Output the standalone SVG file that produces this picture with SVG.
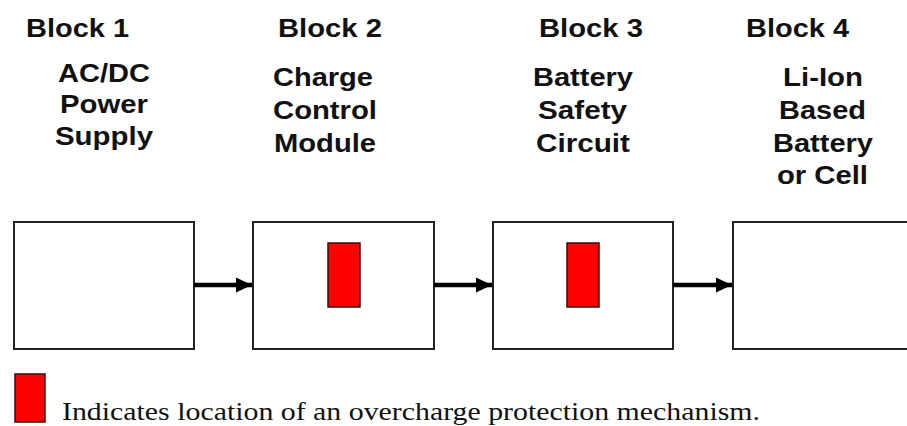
<svg xmlns="http://www.w3.org/2000/svg" width="907" height="426" viewBox="0 0 907 426">
<style>
.box{fill:#fff;stroke:#222;stroke-width:2}
.red{fill:#f00;stroke:#3a0a0a;stroke-width:1.5}
.hdr{font-family:"Liberation Sans",Arial,sans-serif;font-weight:bold;font-size:26px;fill:#111}
.lbl{font-family:"Liberation Sans",Arial,sans-serif;font-weight:bold;font-size:25px;fill:#111}
.leg{font-family:"Liberation Serif","Times New Roman",serif;font-size:26px;fill:#111}
.conn{stroke:#000;stroke-width:4.5;fill:none}
</style>
<defs>
<marker id="ah" markerUnits="userSpaceOnUse" markerWidth="17" markerHeight="17" refX="16" refY="8.5" orient="auto">
<path d="M0,1 L16,8.5 L0,16 Z" fill="#000"/>
</marker>
</defs>
<rect width="907" height="426" fill="#fff"/>
<g id="block1">
<text class="hdr" x="26" y="37" textLength="103" lengthAdjust="spacingAndGlyphs">Block 1</text>
<text class="lbl" x="58" y="82" textLength="92" lengthAdjust="spacingAndGlyphs">AC/DC</text>
<text class="lbl" x="60" y="113" textLength="88" lengthAdjust="spacingAndGlyphs">Power</text>
<text class="lbl" x="55" y="145" textLength="98" lengthAdjust="spacingAndGlyphs">Supply</text>
<rect class="box" x="14" y="222" width="180" height="127"/>
</g>
<g id="block2">
<text class="hdr" x="278" y="37" textLength="104" lengthAdjust="spacingAndGlyphs">Block 2</text>
<text class="lbl" x="273" y="86" textLength="100" lengthAdjust="spacingAndGlyphs">Charge</text>
<text class="lbl" x="273" y="119" textLength="104" lengthAdjust="spacingAndGlyphs">Control</text>
<text class="lbl" x="274" y="152" textLength="102" lengthAdjust="spacingAndGlyphs">Module</text>
<rect class="box" x="253" y="222" width="181" height="127"/>
<rect class="red" x="328" y="243" width="32" height="64"/>
</g>
<g id="block3">
<text class="hdr" x="539" y="37" textLength="104" lengthAdjust="spacingAndGlyphs">Block 3</text>
<text class="lbl" x="533" y="86" textLength="100" lengthAdjust="spacingAndGlyphs">Battery</text>
<text class="lbl" x="538" y="119" textLength="89" lengthAdjust="spacingAndGlyphs">Safety</text>
<text class="lbl" x="536" y="152" textLength="94" lengthAdjust="spacingAndGlyphs">Circuit</text>
<rect class="box" x="493" y="222" width="180" height="127"/>
<rect class="red" x="567" y="243" width="32" height="64"/>
</g>
<g id="block4">
<text class="hdr" x="746" y="37" textLength="103" lengthAdjust="spacingAndGlyphs">Block 4</text>
<text class="lbl" x="783" y="86" textLength="80" lengthAdjust="spacingAndGlyphs">Li-Ion</text>
<text class="lbl" x="779" y="119" textLength="87" lengthAdjust="spacingAndGlyphs">Based</text>
<text class="lbl" x="773" y="152" textLength="100" lengthAdjust="spacingAndGlyphs">Battery</text>
<text class="lbl" x="777" y="184" textLength="91" lengthAdjust="spacingAndGlyphs">or Cell</text>
<rect class="box" x="733" y="222" width="182" height="127"/>
</g>
<g id="connectors">
<line class="conn" x1="194" y1="285" x2="252" y2="285" marker-end="url(#ah)"/>
<line class="conn" x1="434" y1="285" x2="492" y2="285" marker-end="url(#ah)"/>
<line class="conn" x1="673" y1="285" x2="732" y2="285" marker-end="url(#ah)"/>
</g>
<g id="legend">
<rect class="red" x="15" y="374" width="30" height="48"/>
<text class="leg" x="62" y="420" textLength="698" lengthAdjust="spacingAndGlyphs">Indicates location of an overcharge protection mechanism.</text>
</g>
</svg>
